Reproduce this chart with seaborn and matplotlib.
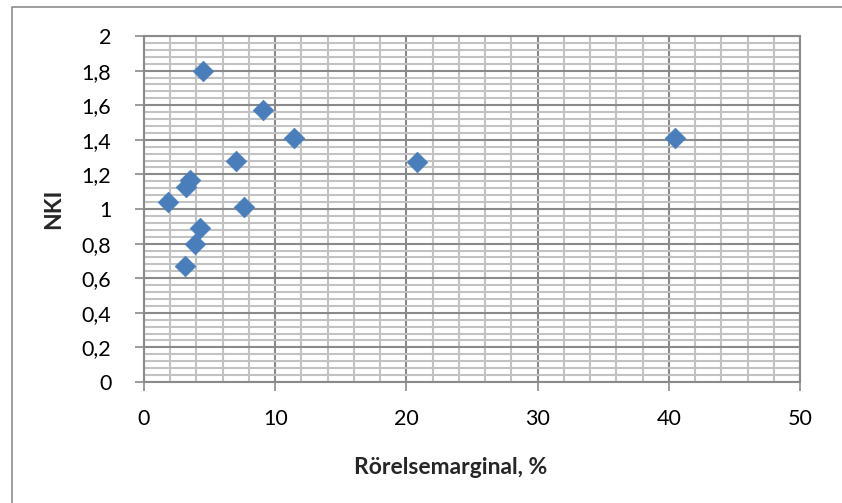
import matplotlib
matplotlib.use("Agg")
import matplotlib.pyplot as plt
import seaborn as sns
import pandas as pd
from matplotlib.ticker import FixedLocator, MultipleLocator
from matplotlib.lines import Line2D

# Operating margin (%) against NKI for each company
rorelsemarginal = [4.5, 9.05, 11.4, 40.5, 7.05, 20.8, 3.5, 3.2, 1.8, 7.6, 4.3, 3.9, 3.1]
nki = [1.80, 1.57, 1.41, 1.41, 1.28, 1.27, 1.17, 1.13, 1.04, 1.01, 0.89, 0.80, 0.67]

x_ticks = [0, 10, 20, 30, 40, 50]
x_tick_labels = ["0", "10", "20", "30", "40", "50"]
y_ticks = [0, 0.2, 0.4, 0.6, 0.8, 1.0, 1.2, 1.4, 1.6, 1.8, 2.0]
y_tick_labels = ["0", "0,2", "0,4", "0,6", "0,8", "1", "1,2", "1,4", "1,6", "1,8", "2"]

x_title = "Rörelsemarginal, %"
y_title = "NKI"

df = pd.DataFrame({"rorelsemarginal": rorelsemarginal, "nki": nki})

sns.set_style("white")
plt.rcParams["font.family"] = ["Lato", "DejaVu Sans"]

W, H = 842, 503
fig = plt.figure(figsize=(W / 100, H / 100), dpi=100)
fig.patch.set_facecolor("white")

left, right, top, bottom = 144, 800, 36, 382
ax = fig.add_axes([left / W, 1 - bottom / H, (right - left) / W, (bottom - top) / H])

major_c = "#8a8a8a"
minor_c = "#c2c2c2"

ax.set_xlim(0, 50)
ax.set_ylim(0, 2)
ax.xaxis.set_major_locator(FixedLocator(x_ticks))
ax.yaxis.set_major_locator(FixedLocator(y_ticks))
ax.xaxis.set_minor_locator(MultipleLocator(2))
ax.yaxis.set_minor_locator(MultipleLocator(0.04))
ax.set_xticklabels(x_tick_labels)
ax.set_yticklabels(y_tick_labels)

ax.grid(which="minor", color=minor_c, linewidth=1.5, zorder=0)
ax.grid(which="major", color=major_c, linewidth=1.5, zorder=1)
ax.set_axisbelow(True)

ax.tick_params(which="major", direction="out", length=6.5, width=1.2, color=major_c,
               labelsize=15.5, labelcolor="black", left=True, bottom=True)
ax.tick_params(axis="y", which="major", pad=17)
ax.tick_params(axis="x", which="major", pad=13)
ax.tick_params(which="minor", length=0)

for s in ax.spines.values():
    s.set_color(major_c)
    s.set_linewidth(1.5)

sns.scatterplot(data=df, x="rorelsemarginal", y="nki", ax=ax, marker="D", s=110,
                color="#4a7ebb", edgecolor="#4a7ebb", linewidth=0.5, zorder=3,
                legend=False, clip_on=False)

ax.set_xlabel("")
ax.set_ylabel("")

fig.text(451 / W, 1 - 468 / H, x_title, ha="center", va="center",
         fontsize=16.5, fontweight="bold")
fig.text(54 / W, 1 - 209 / H, y_title, ha="center", va="center",
         rotation=90, fontsize=16.5, fontweight="bold")

# Chart area frame (left and top edges)
fig.add_artist(Line2D([12 / W, 12 / W, 1.0], [0.0, 1 - 7 / H, 1 - 7 / H],
                      transform=fig.transFigure, color="#8c8c8c", linewidth=1.2))

fig.savefig("out.png", dpi=100, facecolor="white")
